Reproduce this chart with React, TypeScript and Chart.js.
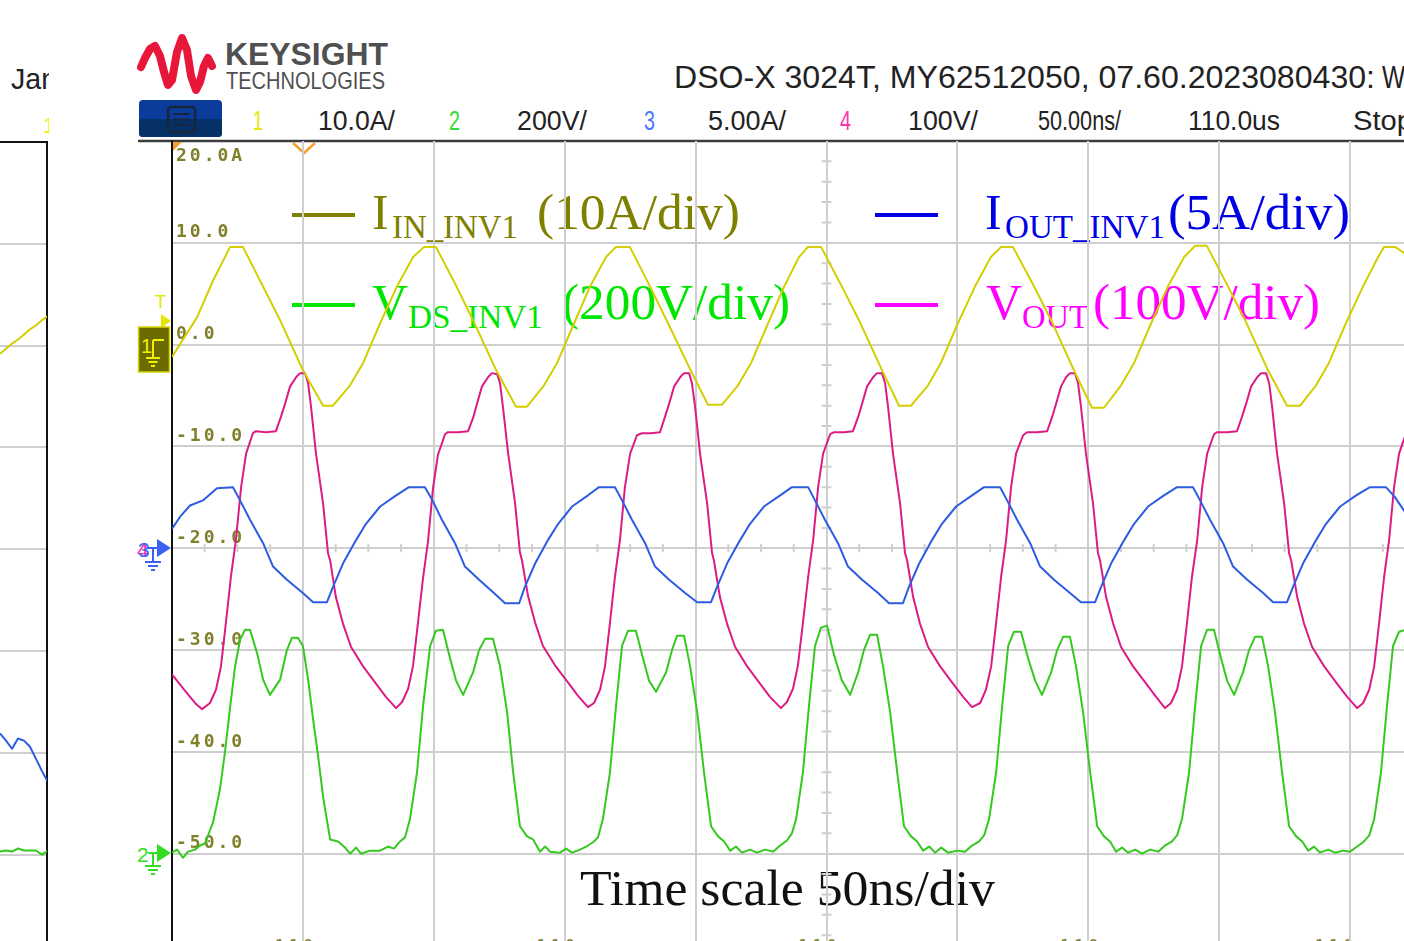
import React, { useEffect, useRef } from 'react';
import { Chart, registerables } from 'chart.js';

Chart.register(...registerables);

// ---------- Data (time in ns, values in the channel-1 screen scale, 10 units/div) ----------
const IIN_T = [0.0, 9.6, 15.7, 22.2, 27.1, 34.8, 41.3, 50.0, 57.7, 61.5,
  68.0, 73.0, 79.5, 85.9, 92.1, 96.3, 100.8, 108.5, 115.0, 123.8, 131.4, 135.6,
  142.1, 147.1, 153.6, 159.7, 165.8, 169.6, 174.9, 182.6, 189.1, 197.9, 204.7, 210.1,
  216.2, 221.2, 227.7, 233.8, 239.5, 242.9, 247.9, 255.9, 262.4, 271.2, 277.7, 282.3,
  288.8, 293.7, 300.2, 306.7, 312.8, 316.7, 321.2, 329.3, 335.8, 344.5, 351.4, 356.0,
  362.5, 367.5, 374.0, 380.4, 386.6, 390.8, 395.3, 403.4, 409.9, 418.6, 425.9, 430.9,
  437.0, 441.9, 448.4, 454.9, 460.7, 463.0, 467.2, 470.6, 474.8];
const IIN_V = [-1.2, 2.7, 6.3, 9.6, 9.6, 5.7, 2.4, -2.5, -6.0, -6.0,
  -4.0, -1.8, 2.1, 5.7, 8.6, 9.6, 9.6, 5.8, 2.4, -2.5, -6.1, -6.1,
  -4.0, -1.8, 2.1, 5.7, 8.6, 9.6, 9.6, 5.7, 2.3, -2.4, -5.9, -5.9,
  -4.0, -1.8, 2.1, 5.7, 8.6, 9.6, 9.6, 5.7, 2.4, -2.5, -6.0, -6.0,
  -4.0, -1.8, 2.1, 5.7, 8.6, 9.6, 9.6, 5.7, 2.4, -2.5, -6.2, -6.2,
  -4.0, -1.8, 2.1, 5.7, 8.6, 9.7, 9.7, 5.7, 2.4, -2.5, -6.0, -6.0,
  -4.0, -1.8, 2.1, 5.7, 8.6, 9.6, 9.6, 9.0, 7.0];

const VOUT_T = [0.0, 5.0, 9.2, 11.5,
  14.5, 16.8, 18.7, 20.6, 22.5, 24.4, 26.4, 28.3, 30.9, 32.1, 35.9, 39.7, 41.6, 43.2, 45.1, 47.4, 48.9, 50.8, 52.0, 53.1, 55.0, 57.7, 59.6, 60.4, 62.6, 65.3, 68.4, 73.0, 77.9, 81.7, 85.6,
  87.9, 90.2, 92.1, 94.0, 95.9, 97.8, 99.7, 101.6, 104.3, 105.4, 109.3, 113.1, 115.0, 116.5, 118.4, 120.7, 122.2, 124.2, 125.3, 126.4, 128.4, 131.0, 132.9, 133.7, 136.0, 138.7, 141.7, 146.3, 151.3, 155.1, 158.9,
  161.2, 163.5, 165.4, 167.3, 169.2, 171.1, 173.0, 175.0, 177.6, 179.5, 183.0, 186.4, 188.3, 189.9, 191.8, 194.1, 195.6, 197.5, 198.6, 199.8, 201.7, 204.4, 206.3, 207.0, 209.3, 212.0, 215.1, 219.7, 224.6, 228.4, 232.6,
  234.9, 237.2, 239.1, 241.0, 243.0, 244.9, 246.8, 248.7, 251.4, 252.9, 256.7, 260.1, 262.1, 263.6, 265.5, 267.8, 269.3, 271.2, 272.4, 273.5, 275.4, 278.1, 280.0, 280.8, 283.1, 285.7, 288.8, 293.4, 298.3, 302.2, 305.6,
  308.7, 310.9, 312.9, 314.8, 316.7, 318.6, 320.5, 322.4, 325.1, 326.6, 330.4, 334.3, 336.2, 337.7, 339.6, 341.5, 343.0, 344.9, 346.1, 347.2, 349.1, 351.8, 353.7, 354.5, 356.8, 359.5, 362.5, 367.1, 372.1, 375.9, 379.3,
  381.6, 383.9, 385.8, 387.7, 389.6, 391.6, 393.5, 395.4, 398.0, 399.2, 403.0, 406.8, 408.7, 410.3, 412.2, 414.5, 416.0, 417.9, 419.1, 420.2, 422.1, 424.8, 426.7, 427.5, 429.8, 432.4, 435.5, 440.1, 445.0, 448.9, 452.7,
  455.0, 457.3, 459.2, 461.1, 463.0, 464.9, 466.8, 468.7, 471.4, 473.7];
const VOUT_V = [-32.4, -34.0, -35.3, -35.8,
  -35.2, -33.9, -31.6, -27.3, -22.8, -19.2, -14.0, -10.7, -8.7, -8.5, -8.6, -8.5, -7.1, -5.8, -4.1, -3.2, -2.8, -2.8, -3.8, -6.1, -10.7, -15.6, -20.5, -21.2, -24.8, -27.4, -29.7, -31.6, -33.3, -34.6, -35.7,
  -35.1, -33.8, -31.5, -27.2, -22.9, -19.3, -14.1, -10.8, -8.8, -8.6, -8.6, -8.5, -7.2, -5.8, -4.1, -3.2, -2.8, -2.9, -3.8, -6.1, -10.7, -15.5, -20.4, -21.2, -24.7, -27.3, -29.6, -31.5, -33.2, -34.5, -35.6,
  -35.2, -33.9, -31.6, -27.3, -22.8, -19.2, -14.0, -10.7, -8.9, -8.7, -8.7, -8.6, -7.1, -5.8, -4.1, -3.2, -2.8, -2.8, -3.8, -6.1, -10.7, -15.6, -20.5, -21.2, -24.8, -27.4, -29.7, -31.6, -33.3, -34.6, -35.7,
  -35.1, -33.8, -31.5, -27.3, -22.8, -19.2, -14.0, -10.7, -8.8, -8.6, -8.6, -8.5, -7.1, -5.8, -4.1, -3.2, -2.8, -2.8, -3.8, -6.1, -10.7, -15.6, -20.5, -21.2, -24.8, -27.4, -29.7, -31.6, -33.3, -34.6, -35.6,
  -35.2, -33.9, -31.6, -27.3, -22.8, -19.2, -14.0, -10.7, -8.9, -8.6, -8.6, -8.5, -7.1, -5.8, -4.1, -3.2, -2.8, -2.8, -3.8, -6.1, -10.7, -15.6, -20.5, -21.2, -24.8, -27.4, -29.7, -31.6, -33.3, -34.6, -35.7,
  -35.2, -33.9, -31.6, -27.3, -22.8, -19.2, -14.0, -10.7, -8.8, -8.6, -8.6, -8.5, -7.1, -5.8, -4.1, -3.2, -2.8, -2.8, -3.8, -6.1, -10.7, -15.6, -20.5, -21.2, -24.8, -27.4, -29.7, -31.6, -33.3, -34.6, -35.7,
  -35.2, -33.9, -31.6, -27.3, -22.8, -19.2, -14.0, -10.7, -8.7, -8.6];

const IOUT_T = [0.0, 3.1, 6.9, 11.8, 17.2, 23.3, 26.0, 29.8, 34.8, 38.6, 43.9, 50.0, 53.9, 59.2, 61.5, 65.3, 70.3, 74.1, 79.5, 85.6, 90.5,
  96.6, 99.3, 103.1, 108.1, 111.9, 117.3, 123.4, 127.2, 132.6, 134.8, 138.7, 143.6, 147.5, 152.8, 158.9, 163.1,
  169.2, 171.9, 175.7, 180.7, 184.5, 189.9, 196.0, 200.6, 205.9, 208.2, 212.0, 217.0, 220.8, 226.1, 232.3, 236.8,
  243.0, 245.6, 249.4, 254.4, 258.2, 263.6, 269.7, 273.9, 279.2, 281.5, 285.4, 290.3, 294.1, 299.5, 305.6, 310.2,
  316.3, 319.0, 322.8, 327.8, 331.6, 336.9, 343.0, 347.2, 352.6, 354.9, 358.7, 363.7, 367.5, 372.8, 378.9, 383.9,
  390.0, 392.7, 396.5, 401.5, 405.3, 410.7, 416.8, 420.6, 425.9, 428.2, 432.0, 437.0, 440.8, 446.2, 452.3, 457.6,
  463.7, 467.2, 470.6, 473.7];
const IOUT_V = [-18.1, -16.9, -15.8, -15.3, -14.1, -14.0, -15.3, -17.2, -19.5, -21.8, -23.1, -24.4, -25.3, -25.3, -23.8, -21.5, -19.2, -17.6, -15.9, -14.8, -14.0,
  -14.0, -15.2, -17.2, -19.5, -21.8, -23.1, -24.5, -25.4, -25.4, -23.8, -21.5, -19.2, -17.6, -15.9, -14.8, -14.0,
  -14.0, -15.3, -17.2, -19.5, -21.8, -23.1, -24.4, -25.3, -25.3, -23.8, -21.5, -19.2, -17.6, -15.9, -14.8, -14.0,
  -14.0, -15.3, -17.2, -19.5, -21.8, -23.1, -24.4, -25.4, -25.4, -23.8, -21.5, -19.2, -17.6, -15.9, -14.8, -14.0,
  -14.0, -15.3, -17.2, -19.5, -21.8, -23.1, -24.4, -25.3, -25.3, -23.8, -21.5, -19.2, -17.6, -15.9, -14.8, -14.0,
  -14.0, -15.3, -17.2, -19.5, -21.8, -23.1, -24.4, -25.3, -25.3, -23.8, -21.5, -19.2, -17.6, -15.9, -14.8, -14.0,
  -14.0, -15.0, -16.3, -17.5];

const VDS_T = [0.0, 1.9, 4.2, 6.1, 8.8, 10.7, 12.6,
  15.7, 18.3, 20.2, 22.2, 24.1, 26.0, 27.9, 29.8, 32.5, 34.8, 37.4, 41.3, 43.9, 45.8, 48.1, 50.0, 52.0, 53.9, 55.8, 57.7, 60.4,
  63.4, 66.1, 68.0, 70.3, 72.2, 75.6, 79.5, 82.5, 84.8, 87.1, 89.0,
  90.9, 93.6, 95.9, 98.6, 100.8, 103.5, 106.2, 108.5, 111.2, 115.0, 117.3, 119.6, 122.6, 125.3, 128.0, 130.3, 132.9, 135.6,
  137.9, 140.6, 142.5, 144.4, 148.2, 150.5, 152.8, 155.9, 158.9, 161.2, 162.7,
  164.6, 167.3, 169.6, 171.9, 174.2, 177.2, 179.9, 182.2, 184.9, 188.7, 191.0, 192.9, 195.6, 197.9, 200.6, 203.2, 205.9, 208.6,
  210.9, 213.2, 215.4, 217.7, 220.8, 223.5, 226.5, 229.6, 232.3, 234.9, 236.8,
  238.4, 241.0, 243.3, 245.6, 247.9, 250.2, 252.9, 255.9, 259.0, 262.1, 264.3, 266.6, 269.3, 271.6, 274.3, 277.0, 279.6, 282.3,
  284.6, 286.9, 289.2, 291.5, 293.8, 296.4, 299.9, 302.9, 305.6, 308.3, 310.2,
  312.1, 314.8, 317.1, 319.4, 321.6, 324.3, 327.0, 329.7, 332.3, 335.8, 338.1, 340.4, 343.0, 345.3, 348.0, 350.7, 353.4, 356.0,
  358.3, 360.6, 362.9, 365.2, 367.9, 370.5, 373.6, 376.7, 379.3, 382.0, 383.9,
  385.8, 388.5, 390.8, 393.1, 395.4, 398.0, 400.7, 403.0, 405.7, 409.1, 411.4, 413.7, 416.4, 418.7, 421.3, 424.0, 426.7, 429.4,
  431.7, 434.0, 436.2, 438.5, 441.6, 444.3, 447.3, 450.0, 452.7, 455.3, 457.3,
  459.2, 461.8, 464.1, 466.4, 468.7, 471.4, 474.1];
const VDS_V = [-49.9, -49.6, -50.4, -49.8, -49.6, -49.2, -49.0,
  -46.9, -43.7, -40.1, -35.6, -31.6, -29.0, -28.0, -28.0, -30.3, -32.9, -34.4, -32.9, -30.0, -28.8, -28.8, -29.6, -32.9, -36.8, -40.4, -44.4, -48.6,
  -48.8, -49.4, -50.0, -49.4, -50.0, -49.7, -49.7, -49.3, -49.5, -48.8, -48.4,
  -46.6, -42.0, -35.5, -29.6, -28.1, -28.0, -30.8, -33.0, -34.4, -32.2, -30.0, -28.9, -28.9, -31.6, -36.1, -42.0, -47.3, -48.3,
  -48.6, -49.8, -49.3, -49.8, -49.9, -49.5, -49.9, -49.6, -49.2, -48.8, -48.4,
  -46.6, -42.0, -35.5, -29.6, -28.1, -28.1, -30.8, -33.0, -34.1, -32.2, -30.0, -28.6, -28.6, -31.6, -36.1, -42.0, -47.3, -48.3,
  -48.8, -49.7, -49.3, -49.9, -49.6, -49.9, -49.6, -49.8, -49.2, -48.7, -48.0,
  -46.6, -42.0, -35.5, -29.6, -27.8, -27.6, -30.5, -33.0, -34.4, -32.2, -30.0, -28.5, -28.5, -31.6, -36.1, -42.0, -47.3, -48.3,
  -48.8, -49.7, -49.3, -49.9, -49.4, -49.9, -49.7, -49.8, -49.2, -48.8, -48.2,
  -46.6, -42.0, -35.5, -29.6, -28.2, -28.2, -30.8, -33.0, -34.4, -32.2, -30.0, -28.7, -28.7, -31.6, -36.1, -42.0, -47.3, -48.3,
  -48.8, -49.8, -49.4, -49.9, -49.6, -50.0, -49.6, -49.8, -49.2, -48.8, -48.2,
  -46.6, -42.0, -35.5, -29.6, -28.0, -28.0, -30.8, -33.0, -34.4, -32.2, -30.0, -28.7, -28.7, -31.6, -36.1, -42.0, -47.3, -48.3,
  -48.8, -49.7, -49.3, -49.9, -49.6, -49.9, -49.7, -49.8, -49.3, -48.8, -48.2,
  -46.6, -42.0, -35.5, -29.6, -28.2, -28.0, -30.5];

// left (cropped) screenshot fragment
const LP_T = [0, 6, 12, 18, 24, 30, 36, 42, 48];
const LP_YEL = [-0.8, -0.3, 0.2, 0.6, 1.1, 1.6, 2.0, 2.5, 2.9];
const LP_BLUE = [-38.1, -38.8, -39.6, -38.6, -38.8, -39.4, -40.6, -41.8, -42.9];
const LP_GREEN = [-49.7, -49.6, -49.7, -49.4, -49.6, -49.6, -49.6, -50.0, -49.6];

const Y_TICKS = [20, 10, 0, -10, -20, -30, -40, -50, -60];
const Y_TICK_LABELS = ['20.0A', '10.0', '0.0', '-10.0', '-20.0', '-30.0', '-40.0', '-50.0', ''];
const X_BOTTOM_LABELS = ['110u', '110u', '110u', '110u', '110us'];
const X_BOTTOM_LABEL_T = [50, 150, 250, 350, 450];
const CHANNEL_ROW = [
  { text: '1', x: 253, w: 10, c: '#e6e600' },
  { text: '10.0A/', x: 318, w: 77, c: '#222' },
  { text: '2', x: 449, w: 11, c: '#33dd33' },
  { text: '200V/', x: 517, w: 70, c: '#222' },
  { text: '3', x: 644, w: 11, c: '#4a78ff' },
  { text: '5.00A/', x: 708, w: 78, c: '#222' },
  { text: '4', x: 840, w: 11, c: '#ff33b0' },
  { text: '100V/', x: 908, w: 70, c: '#222' },
  { text: '50.00ns/', x: 1038, w: 83, c: '#222' },
  { text: '110.0us', x: 1188, w: 92, c: '#222' },
  { text: 'Stop', x: 1353, w: 60, c: '#222' },
];

const YEL = '#d4ce00';
const MAG = '#dc1c86';
const BLU = '#2c5ce0';
const GRN = '#35c81f';
const GRID = '#cfcfcf';
const OLIVE = '#80802c';
const MONO = "'DejaVu Sans Mono', monospace";
const SERIF = "'Liberation Serif', 'DejaVu Serif', serif";
const SANS = "'Liberation Sans', Arial, sans-serif";

const CENTER_T = 250;
const CENTER_V = -20;
const X_MINOR = 12.5;
const Y_MINOR = 2;

function pts(ts: number[], vs: number[]) {
  const n = Math.min(ts.length, vs.length);
  const out: { x: number; y: number }[] = [];
  for (let i = 0; i < n; i++) out.push({ x: ts[i], y: vs[i] });
  return out;
}

const spacingPlugin = {
  id: 'letterSpacing',
  beforeDraw(chart: any) {
    chart.ctx.letterSpacing = '3px';
  },
};

const centerTicksPlugin = {
  id: 'centerTicks',
  beforeDatasetsDraw(chart: any) {
    const { ctx, scales } = chart;
    const x = scales.x;
    const y = scales.y;
    const cx = x.getPixelForValue(CENTER_T);
    const cy = y.getPixelForValue(CENTER_V);
    ctx.save();
    ctx.strokeStyle = GRID;
    ctx.lineWidth = 2;
    ctx.beginPath();
    for (let v = y.min; v <= y.max; v += Y_MINOR) {
      if (Math.abs(v % 10) < 1e-6) continue;
      const py = y.getPixelForValue(v);
      ctx.moveTo(cx - 5, py);
      ctx.lineTo(cx + 5, py);
    }
    for (let t = x.min; t <= x.max; t += X_MINOR) {
      if (Math.abs(t % 50) < 1e-6) continue;
      const px = x.getPixelForValue(t);
      ctx.moveTo(px, cy - 4);
      ctx.lineTo(px, cy + 4);
    }
    ctx.stroke();
    ctx.restore();
  },
};

function ds(label: string, data: any[], color: string) {
  return {
    label,
    data,
    borderColor: color,
    backgroundColor: color,
    borderWidth: 2,
    pointRadius: 0,
    tension: 0,
    fill: false,
    borderJoinStyle: 'round' as const,
  };
}

export default function App() {
  const mainRef = useRef<HTMLCanvasElement>(null);
  const leftRef = useRef<HTMLCanvasElement>(null);

  useEffect(() => {
    const main = new Chart(mainRef.current as HTMLCanvasElement, {
      type: 'line',
      data: {
        datasets: [
          ds('I_IN_INV1', pts(IIN_T, IIN_V), YEL),
          ds('I_OUT_INV1', pts(IOUT_T, IOUT_V), BLU),
          ds('V_OUT', pts(VOUT_T, VOUT_V), MAG),
          ds('V_DS_INV1', pts(VDS_T, VDS_V), GRN),
        ],
      },
      options: {
        animation: false,
        responsive: false,
        devicePixelRatio: 1,
        layout: { padding: { left: 172, top: 141, right: 19, bottom: 14.5 } },
        plugins: { legend: { display: false }, tooltip: { enabled: false } },
        scales: {
          x: {
            type: 'linear',
            min: 0,
            max: 500,
            afterFit: (s: any) => { s.height = 0; },
            ticks: { display: false, stepSize: 50 },
            grid: { color: GRID, lineWidth: 2, drawTicks: false },
            border: { display: false },
          },
          y: {
            type: 'linear',
            min: -60,
            max: 20,
            afterFit: (s: any) => { s.width = 0; },
            ticks: {
              stepSize: 10,
              mirror: true,
              padding: 4,
              labelOffset: -10,
              autoSkip: false,
              color: OLIVE,
              font: (c: any) => (c.tick && c.tick.value === 20
                ? { family: MONO, size: 18, weight: 'bold', lineHeight: '50px' }
                : { family: MONO, size: 18, weight: 'bold', lineHeight: '20px' }),
              callback: (value: any) => {
                const v = Number(value);
                const i = Y_TICKS.indexOf(v);
                const s = i >= 0 ? Y_TICK_LABELS[i] : '';
                return v === 20 ? ['', s] : s;
              },
            },
            grid: {
              color: (c: any) => (c.tick && c.tick.value === 20 ? 'rgba(0,0,0,0)' : GRID),
              lineWidth: 2,
              drawTicks: false,
            },
            border: { display: true, color: '#111', width: 2 },
          },
        },
      } as any,
      plugins: [spacingPlugin, centerTicksPlugin],
    });

    const left = new Chart(leftRef.current as HTMLCanvasElement, {
      type: 'line',
      data: {
        datasets: [
          ds('yellow', pts(LP_T, LP_YEL), YEL),
          ds('blue', pts(LP_T, LP_BLUE), BLU),
          ds('green', pts(LP_T, LP_GREEN), GRN),
        ],
      },
      options: {
        animation: false,
        responsive: false,
        devicePixelRatio: 1,
        layout: { padding: { left: 0, top: 142, right: 1, bottom: 13.6 } },
        plugins: { legend: { display: false }, tooltip: { enabled: false } },
        scales: {
          x: {
            type: 'linear',
            min: 0,
            max: 47,
            position: 'top',
            afterFit: (s: any) => { s.height = 0; },
            ticks: { display: false },
            grid: { display: false, drawTicks: false },
            border: { display: true, color: '#111', width: 2 },
          },
          y: {
            type: 'linear',
            min: -60,
            max: 20,
            position: 'right',
            afterFit: (s: any) => { s.width = 0; },
            ticks: { display: false, stepSize: 10 },
            grid: {
              color: (c: any) => (c.tick && c.tick.value === 20 ? 'rgba(0,0,0,0)' : GRID),
              lineWidth: 2,
              drawTicks: false,
            },
            border: { display: true, color: '#111', width: 2 },
          },
        },
      } as any,
    });

    return () => {
      main.destroy();
      left.destroy();
    };
  }, []);

  // pixel helper for the bottom time labels (same mapping as the chart x scale)
  const tx = (t: number) => 172 + (t / 500) * 1309;

  return (
    <div style={{ position: 'fixed', left: 0, top: 0, width: 1404, height: 941, overflow: 'hidden', background: '#fff' }}>
      <svg width={1404} height={941} style={{ position: 'absolute', left: 0, top: 0 }}>
        <defs>
          <clipPath id="lpclip"><rect x={0} y={0} width={49} height={941} /></clipPath>
        </defs>
        {/* left fragment texts */}
        <g clipPath="url(#lpclip)">
          <text x={11} y={89} fontFamily={SANS} fontSize={30} fill="#222" textLength={46} lengthAdjust="spacingAndGlyphs">Jan</text>
          <text x={43} y={133} fontFamily={SANS} fontSize={22} fill="#eeee00">1</text>
        </g>

        {/* Keysight logo */}
        <path d="M141,67 L145,58 L150,49 L155,46 L160,56 L164,72 L168,85 L172,80 L177,52 L182,38 L187,50 L191,76 L196,90 L200,82 L204,66 L208,58 L212,66"
          stroke="#e8173a" strokeWidth={8} fill="none" strokeLinejoin="round" strokeLinecap="round" />
        <text x={225} y={65} fontFamily={SANS} fontWeight="bold" fontSize={32} fill="#505050" textLength={163} lengthAdjust="spacingAndGlyphs">KEYSIGHT</text>
        <text x={226} y={89} fontFamily={SANS} fontSize={24} fill="#505050" textLength={159} lengthAdjust="spacingAndGlyphs">TECHNOLOGIES</text>

        <text x={674} y={88} fontFamily={SANS} fontSize={31} fill="#222" textLength={701} lengthAdjust="spacingAndGlyphs">DSO-X 3024T, MY62512050, 07.60.2023080430:</text>
        <text x={1382} y={88} fontFamily={SANS} fontSize={31} fill="#222" textLength={50} lengthAdjust="spacingAndGlyphs">Wed</text>

        {/* menu button */}
        <rect x={139} y={100} width={83} height={37} rx={4} fill="#0b3c9c" />
        <path d="M139,119 L222,119 L222,133 Q222,137 218,137 L143,137 Q139,137 139,133 Z" fill="#063068" />
        <rect x={168} y={107} width={27} height={25} rx={3} stroke="#17263c" strokeWidth={2.5} fill="none" />
        <line x1={173} y1={114} x2={190} y2={114} stroke="#17263c" strokeWidth={2} />
        <line x1={173} y1={119.5} x2={190} y2={119.5} stroke="#17263c" strokeWidth={2} />
        <line x1={173} y1={125} x2={190} y2={125} stroke="#17263c" strokeWidth={2} />

        {CHANNEL_ROW.map((c, i) => (
          <text key={i} x={c.x} y={130} fontFamily={SANS} fontSize={27} fill={c.c} textLength={c.w} lengthAdjust="spacingAndGlyphs">{c.text}</text>
        ))}

        {/* top border of the scope screen */}
        <line x1={138} y1={141} x2={1404} y2={141} stroke="#3c3c3c" strokeWidth={2.5} />
        {/* trigger markers */}
        <path d="M293,143 L304,153 L315,143" stroke="#f2a033" strokeWidth={2.5} fill="none" />
        <path d="M173,142 L182,142 L173,151 Z" fill="#f2a033" />

        {/* channel 1 ground marker */}
        <text x={155} y={308} fontFamily={SANS} fontSize={18} fill="#e6e600">T</text>
        <path d="M161,314 L171,321 L161,328 Z" fill="#e6e600" />
        <rect x={138.5} y={327} width={31} height={45} fill="#6b6b00" stroke="#d8d800" strokeWidth={1.5} />
        <text x={141} y={353} fontFamily={SANS} fontSize={20} fill="#f0f000">1</text>
        <path d="M153,340 L153,358 M146,358 L160,358 M148.5,362 L157.5,362 M151,366 L155,366 M153,340 L164,340" stroke="#f0f000" strokeWidth={2} fill="none" />

        {/* channel 3 / 4 marker */}
        <text x={137} y={557} fontFamily={SANS} fontSize={21} fill="#ff2aa8">4</text>
        <text x={138} y={557} fontFamily={SANS} fontSize={21} fill="#3b62f0">3</text>
        <path d="M157,539 L171,548 L157,557 Z" fill="#3b62f0" />
        <path d="M148,548 L157,548 M153,548 L153,562 M145,562 L161,562 M148,566 L158,566 M151,570 L155,570" stroke="#3b62f0" strokeWidth={2} fill="none" />

        {/* channel 2 marker */}
        <text x={137} y={862} fontFamily={SANS} fontSize={21} fill="#33dd22">2</text>
        <path d="M157,844 L171,853 L157,862 Z" fill="#33dd22" />
        <path d="M148,853 L157,853 M153,853 L153,866 M145,866 L161,866 M148,870 L158,870 M151,874 L155,874" stroke="#33dd22" strokeWidth={2} fill="none" />

        {/* legend */}
        <line x1={292} y1={215} x2={355} y2={215} stroke="#808000" strokeWidth={4} />
        <text x={372} y={229} fontFamily={SERIF} fontSize={50} fill="#808000">I</text>
        <text x={392} y={238} fontFamily={SERIF} fontSize={33} fill="#808000" textLength={126} lengthAdjust="spacingAndGlyphs">IN_INV1</text>
        <text x={537} y={229} fontFamily={SERIF} fontSize={50} fill="#808000" textLength={203} lengthAdjust="spacingAndGlyphs">(10A/div)</text>

        <line x1={292} y1={305} x2={355} y2={305} stroke="#00e600" strokeWidth={4} />
        <text x={372} y={319} fontFamily={SERIF} fontSize={50} fill="#00e600">V</text>
        <text x={408} y={328} fontFamily={SERIF} fontSize={33} fill="#00e600" textLength={135} lengthAdjust="spacingAndGlyphs">DS_INV1</text>
        <text x={562} y={319} fontFamily={SERIF} fontSize={50} fill="#00e600" textLength={228} lengthAdjust="spacingAndGlyphs">(200V/div)</text>

        <line x1={875} y1={215} x2={938} y2={215} stroke="#0000e6" strokeWidth={4} />
        <text x={985} y={229} fontFamily={SERIF} fontSize={50} fill="#0000e6">I</text>
        <text x={1005} y={238} fontFamily={SERIF} fontSize={33} fill="#0000e6" textLength={160} lengthAdjust="spacingAndGlyphs">OUT_INV1</text>
        <text x={1168} y={229} fontFamily={SERIF} fontSize={50} fill="#0000e6" textLength={182} lengthAdjust="spacingAndGlyphs">(5A/div)</text>

        <line x1={875} y1={305} x2={938} y2={305} stroke="#ff00ff" strokeWidth={4} />
        <text x={986} y={319} fontFamily={SERIF} fontSize={50} fill="#ff00ff">V</text>
        <text x={1022} y={328} fontFamily={SERIF} fontSize={33} fill="#ff00ff" textLength={67} lengthAdjust="spacingAndGlyphs">OUT</text>
        <text x={1093} y={319} fontFamily={SERIF} fontSize={50} fill="#ff00ff" textLength={227} lengthAdjust="spacingAndGlyphs">(100V/div)</text>

        <text x={580} y={905} fontFamily={SERIF} fontSize={50} fill="#111" textLength={415} lengthAdjust="spacingAndGlyphs">Time scale 50ns/div</text>

        {X_BOTTOM_LABELS.map((s, i) => (
          <text key={i} x={tx(X_BOTTOM_LABEL_T[i])} y={952} textAnchor="middle" fontFamily={MONO} fontSize={17} letterSpacing={4} fill={OLIVE}>{s}</text>
        ))}
      </svg>
      <canvas ref={leftRef} width={48} height={970} style={{ position: 'absolute', left: 0, top: 0, width: 48, height: 970 }} />
      <canvas ref={mainRef} width={1500} height={970} style={{ position: 'absolute', left: 0, top: 0, width: 1500, height: 970 }} />
    </div>
  );
}
